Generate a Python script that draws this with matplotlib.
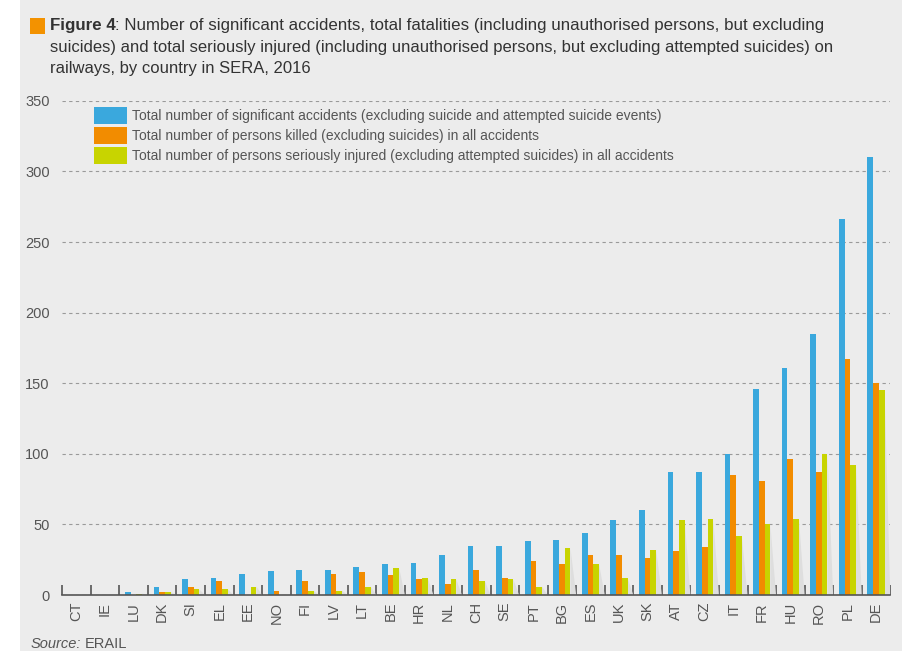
import matplotlib.pyplot as plt
import numpy as np
from matplotlib.patches import Rectangle, Polygon

countries = ["CT", "IE", "LU", "DK", "SI", "EL", "EE", "NO", "FI", "LV", "LT", "BE", "HR", "NL",
             "CH", "SE", "PT", "BG", "ES", "UK", "SK", "AT", "CZ", "IT", "FR", "HU", "RO", "PL", "DE"]
accidents = [0, 0, 2, 6, 11, 12, 15, 17, 18, 18, 20, 22, 23, 28,
             35, 35, 38, 39, 44, 53, 60, 87, 87, 100, 146, 161, 185, 266, 310]
killed = [0, 0, 0, 2, 6, 10, 0, 3, 10, 15, 16, 14, 11, 8,
          18, 12, 24, 22, 28, 28, 26, 31, 34, 85, 81, 96, 87, 167, 150]
injured = [0, 0, 1, 2, 4, 4, 6, 0, 3, 3, 6, 19, 12, 11,
           10, 11, 6, 33, 22, 12, 32, 53, 54, 42, 50, 54, 100, 92, 145]

labels = ["Total number of significant accidents (excluding suicide and attempted suicide events)",
          "Total number of persons killed (excluding suicides) in all accidents",
          "Total number of persons seriously injured (excluding attempted suicides) in all accidents"]
colors = ["#3aa8dd", "#f28c00", "#c8d400"]

plt.rcParams['font.family'] = ['Liberation Sans', 'DejaVu Sans']
bg = "#ececec"
txt = "#555555"

fig = plt.figure(figsize=(9.02, 6.51), dpi=100, facecolor=bg)
fig.patches.append(Rectangle((0.0, 0.0), 0.022, 1.0, transform=fig.transFigure,
                             facecolor="white", edgecolor="none"))
ax = fig.add_axes([0.069, 0.086, 0.918, 0.759])
ax.set_facecolor(bg)

x = np.arange(len(countries))
w = 0.2
# soft drop shadow to the right of each group
for i in x:
    if injured[i] > 0:
        ax.add_patch(Polygon([(i + 1.5 * w, 0), (i + 1.5 * w, injured[i]), (i + 1.5 * w + 0.2, 0)],
                             closed=True, facecolor="#dedede", edgecolor="none", zorder=1))
for k, (vals, c, lab) in enumerate(zip([accidents, killed, injured], colors, labels)):
    ax.bar(x + (k - 1) * w, vals, width=w, color=c, label=lab, zorder=2)

ax.set_xlim(-0.5, len(countries) - 0.5)
ax.set_ylim(0, 350)
ax.set_yticks(range(0, 351, 50))
ax.yaxis.grid(True, color="#9a9a9a", linestyle=(0, (3, 3)), linewidth=0.8)
ax.set_axisbelow(True)
for s in ["top", "right", "left"]:
    ax.spines[s].set_visible(False)
ax.spines["bottom"].set_color("#555555")
ax.spines["bottom"].set_linewidth(1.2)
ax.tick_params(axis="y", length=0, labelsize=10.5, labelcolor=txt, pad=9)
ax.set_xticks(x)
ax.set_xticklabels(countries, rotation=90, fontsize=10.5, color=txt)
ax.tick_params(axis="x", length=0, pad=5)
ax.set_xticks(np.arange(len(countries) + 1) - 0.5, minor=True)
ax.tick_params(axis="x", which="minor", direction="in", length=7, color="#555555", width=1.2)

ax.legend(loc="upper left", bbox_to_anchor=(0.023, 1.012), frameon=False, fontsize=10,
          handlelength=2.4, handleheight=1.45, labelspacing=0.25, handletextpad=0.35,
          labelcolor=txt)

fig.patches.append(Rectangle((0.033, 0.9485), 0.017, 0.024, transform=fig.transFigure,
                             facecolor="#f39200", edgecolor="none"))
head = fig.text(0.055, 0.973, "Figure 4", fontsize=12.2, fontweight="bold", color="#333333", va="top")
fig.canvas.draw()
bb = head.get_window_extent().transformed(fig.transFigure.inverted())
fig.text(bb.x1, 0.973,
         ": Number of significant accidents, total fatalities (including unauthorised persons, but excluding",
         fontsize=12.2, color="#333333", va="top")
fig.text(0.055, 0.938,
         "suicides) and total seriously injured (including unauthorised persons, but excluding attempted suicides) on\n"
         "railways, by country in SERA, 2016",
         fontsize=12, color="#333333", va="top", linespacing=1.45)
src = fig.text(0.034, 0.004, "Source:", fontsize=10.5, style="italic", color=txt)
fig.canvas.draw()
sb = src.get_window_extent().transformed(fig.transFigure.inverted())
fig.text(sb.x1 + 0.004, 0.004, "ERAIL", fontsize=10.5, color=txt)

fig.savefig("out.png", dpi=100, facecolor=fig.get_facecolor())
